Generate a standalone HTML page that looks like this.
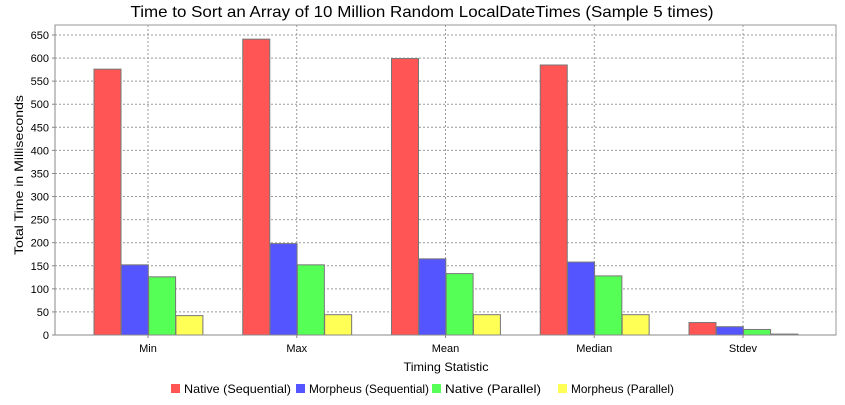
<!DOCTYPE html>
<html><head><meta charset="utf-8"><style>
body{margin:0;background:#fff;font-family:"Liberation Sans","DejaVu Sans",sans-serif}
</style></head><body>
<svg id="c" width="845" height="400" xmlns="http://www.w3.org/2000/svg" font-family="Liberation Sans, DejaVu Sans, sans-serif">
<rect width="845" height="400" fill="#fff"/>
<text x="422" y="17" text-anchor="middle" font-size="16" fill="#000" textLength="583" lengthAdjust="spacingAndGlyphs">Time to Sort an Array of 10 Million Random LocalDateTimes (Sample 5 times)</text>
<g id="grid"></g><g id="bars"></g><g id="axes"></g>
<text transform="translate(23,175) rotate(-90)" text-anchor="middle" font-size="12" textLength="160" lengthAdjust="spacingAndGlyphs">Total Time in Milliseconds</text>
<text x="446" y="371" text-anchor="middle" font-size="12" textLength="85" lengthAdjust="spacingAndGlyphs">Timing Statistic</text>
<g id="legend"></g>
</svg>
<script>
const categories=["Min","Max","Mean","Median","Stdev"];
const seriesNames=["Native (Sequential)","Morpheus (Sequential)","Native (Parallel)","Morpheus (Parallel)"];
const nativeSeq=[576,641,599,585,27];
const morpheusSeq=[152,198,165,158,18];
const nativePar=[126,152,133,128,12];
const morpheusPar=[42,44,44,44,2];
const yTicks=[0,50,100,150,200,250,300,350,400,450,500,550,600,650];
const colors=["#ff5555","#5555ff","#55ff55","#ffff55"];
const series=[nativeSeq,morpheusSeq,nativePar,morpheusPar];
const NS="http://www.w3.org/2000/svg";
const L=55,R=836,T=25,B=335;
const y=v=>B-v*(300/650);
const xc=i=>148+i*148.75;
function mk(t,a,p){const e=document.createElementNS(NS,t);for(const k in a)e.setAttribute(k,a[k]);p.appendChild(e);return e;}
const grid=document.getElementById('grid'),bars=document.getElementById('bars'),axes=document.getElementById('axes'),leg=document.getElementById('legend');
mk('rect',{x:L,y:T,width:R-L,height:B-T,fill:'#fff',stroke:'#999'},grid);
yTicks.forEach(v=>{
 if(v>0){const g=mk('line',{x1:L,x2:R,y1:y(v),y2:y(v),stroke:'#999','stroke-dasharray':'2,2','stroke-width':1},grid);
 
 }
 mk('line',{x1:L-3,x2:L,y1:y(v),y2:y(v),stroke:'#888'},axes);
 const t=mk('text',{x:L-6,y:y(v)+4,'text-anchor':'end','font-size':11},axes);t.textContent=v;
 
 
});
categories.forEach((c,i)=>{
 const g=mk('line',{x1:xc(i),x2:xc(i),y1:T,y2:B,stroke:'#999','stroke-dasharray':'2,2'},grid);
 
 
 mk('line',{x1:xc(i),x2:xc(i),y1:B,y2:B+3,stroke:'#888'},axes);
 const t=mk('text',{x:xc(i),y:B+17,'text-anchor':'middle','font-size':11},axes);t.textContent=c;
 
 
 series.forEach((s,j)=>{
  const x0=xc(i)-54+j*27.3;
  const r=mk('rect',{x:x0,y:y(s[i]),width:27,height:B-y(s[i]),fill:colors[j],stroke:'#777','stroke-width':1},bars);
  
  
 });
});
mk('line',{x1:L,x2:R,y1:B,y2:B,stroke:'#888'},axes);
mk('line',{x1:L,x2:L,y1:T,y2:B,stroke:'#888'},axes);
const lx=[171,296,432,558];
const lw=[107,120,96,103];
seriesNames.forEach((n,j)=>{
 const g=mk('g',{},leg);
 
 
 mk('rect',{x:lx[j],y:384,width:9,height:9,fill:colors[j]},g);
 const t=mk('text',{x:lx[j]+13,y:393,'font-size':12,textLength:lw[j],lengthAdjust:'spacingAndGlyphs'},g);t.textContent=n;
});
</script>
</body></html>
